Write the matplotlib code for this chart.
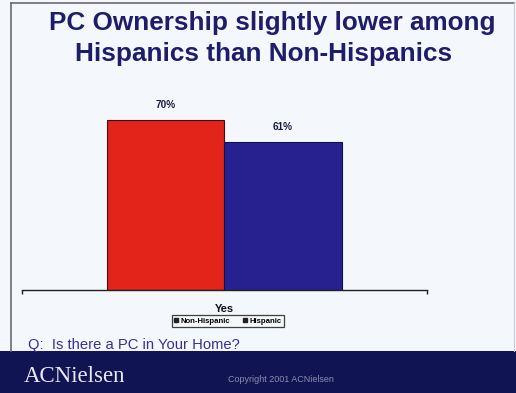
"""PC ownership slide: Hispanic vs Non-Hispanic."""
import matplotlib
matplotlib.use('Agg')
import matplotlib.pyplot as plt
from matplotlib.lines import Line2D
from matplotlib.patches import Rectangle

# ── Data ──────────────────────────────────────────────────
categories = ['Yes']
series_names = ['Non-Hispanic', 'Hispanic']
non_hispanic = [70]
hispanic = [61]

# ── Palette ───────────────────────────────────────────────
C_BG = '#f4f8fc'
C_NAVY = '#1e1d6a'
C_RED = '#e3241b'
C_BLUE = '#27218f'
C_BAND = '#111452'
C_Q = '#3b2f8c'

W, H = 516, 393
fig = plt.figure(figsize=(W / 100, H / 100), dpi=100)
fig.patch.set_facecolor(C_BG)


def px(x, y):
    return x / W, 1 - y / H


# ── Slide frame ───────────────────────────────────────────
bg = fig.add_axes([0, 0, 1, 1], zorder=0)
bg.set_xlim(0, W)
bg.set_ylim(H, 0)
bg.axis('off')
bg.add_patch(Rectangle((0, 351), W, 42, facecolor=C_BAND, edgecolor='none'))
bg.plot([11, 11], [3, 351], color='#6a6a70', lw=1.2)
bg.plot([11, 514], [3, 3], color='#6a6a70', lw=1.2)
bg.plot([514, 514], [3, 351], color='#c8ccd4', lw=0.8)

# ── Title ─────────────────────────────────────────────────
fig.text(*px(272, 23), 'PC Ownership slightly lower among', ha='center',
         va='center', fontsize=18.8, fontweight='bold', color=C_NAVY,
         family='Liberation Sans')
fig.text(*px(264, 54), 'Hispanics than Non-Hispanics', ha='center',
         va='center', fontsize=18.8, fontweight='bold', color=C_NAVY,
         family='Liberation Sans')

# ── Bars ──────────────────────────────────────────────────
left, right, base = 22, 427, 290
ymax = 80
top = base - 170 / 70 * ymax
ax = fig.add_axes([left / W, 1 - base / H, (right - left) / W, (base - top) / H],
                  zorder=2)
ax.set_facecolor('none')
ax.set_xlim(-1.73, 1.73)
ax.set_ylim(0, ymax)

xs = list(range(len(categories)))
b1 = ax.bar([x - 0.5 for x in xs], non_hispanic, width=1.0, color=C_RED,
            edgecolor='#3a1010', linewidth=0.8)
b2 = ax.bar([x + 0.5 for x in xs], hispanic, width=1.0, color=C_BLUE,
            edgecolor='#10104a', linewidth=0.8)
for bars, vals in [(b1, non_hispanic), (b2, hispanic)]:
    for rect, v in zip(bars, vals):
        ax.text(rect.get_x() + rect.get_width() / 2, v + 4, f'{v}%',
                ha='center', va='bottom', fontsize=7.2, fontweight='bold',
                color='#1a1a40', family='Liberation Sans')

for s in ['left', 'top', 'right']:
    ax.spines[s].set_visible(False)
ax.spines['bottom'].set_color('#202020')
ax.spines['bottom'].set_linewidth(1.0)
ax.set_yticks([])
ax.set_xticks(xs)
ax.set_xticklabels(categories, fontsize=8, fontweight='bold',
                   family='Liberation Sans', color='#111111')
ax.tick_params(axis='x', length=0, pad=10)
ax.set_xticks([-1.73, 1.73], minor=True)
ax.tick_params(axis='x', which='minor', length=3, width=1.0, color='#202020')

# ── Legend ────────────────────────────────────────────────
handles = [Line2D([], [], marker='s', ls='none', markersize=2.6, color='#222222'),
           Line2D([], [], marker='s', ls='none', markersize=2.6, color='#222222')]
leg = fig.legend(handles, series_names, loc='center', bbox_to_anchor=px(228, 321),
                 ncol=2, frameon=True, fancybox=False,
                 handlelength=0.6, handletextpad=0.3, columnspacing=1.6,
                 borderpad=0.3,
                 prop={'family': 'Liberation Sans', 'weight': 'bold', 'size': 5.6})
leg.get_frame().set_edgecolor('#111111')
leg.get_frame().set_linewidth(0.9)
leg.get_frame().set_facecolor('#f8f8f8')

# ── Question & footer ─────────────────────────────────────
fig.text(*px(28, 345), 'Q:  Is there a PC in Your Home?', ha='left', va='center',
         fontsize=10.6, color=C_Q, family='Liberation Sans')
fig.text(*px(24, 376), 'ACNielsen', ha='left', va='center', fontsize=16.5,
         color='#e8e8f0', family='Liberation Serif')
fig.text(*px(228, 379), 'Copyright 2001 ACNielsen', ha='left', va='center',
         fontsize=6.5, color='#8a8cb0', family='Liberation Sans')

fig.savefig('out.png', dpi=100, facecolor=C_BG)
